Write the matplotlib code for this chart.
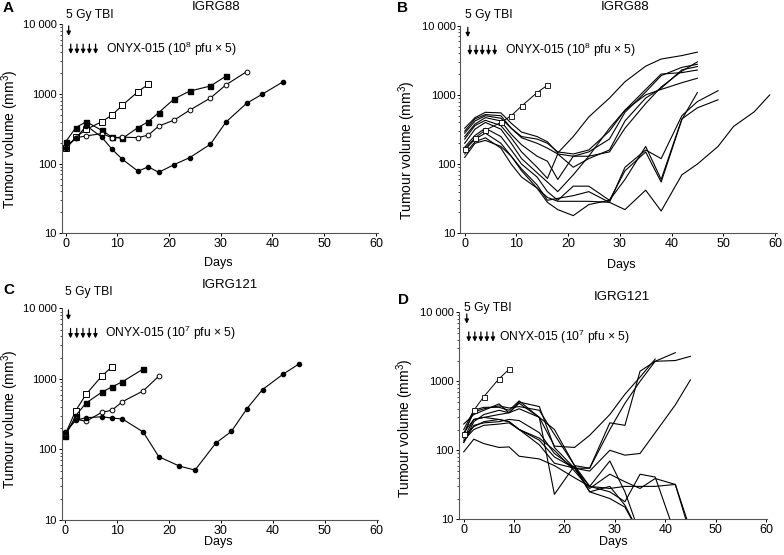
import numpy as np
import matplotlib
matplotlib.use("Agg")
import matplotlib.pyplot as plt
from matplotlib.ticker import FixedLocator, FixedFormatter, LogLocator, NullFormatter

plt.rcParams['font.family'] = ['Liberation Sans', 'DejaVu Sans']
plt.rcParams['mathtext.default'] = 'regular'

# ---- panel A (IGRG88, mean curves) ----
a_ctrl_days = [0, 2, 4, 7, 9, 11, 14, 16]
a_ctrl_vol = [165, 240, 310, 400, 500, 690, 1080, 1380]
a_fsq_days = [0, 2, 4, 7, 9, 11, 14, 16, 18, 21, 24, 28, 31]
a_fsq_vol = [205, 330, 400, 300, 240, 230, 330, 400, 540, 850, 1100, 1300, 1800]
a_ocirc_days = [0, 2, 4, 7, 9, 11, 14, 16, 18, 21, 24, 28, 31, 35]
a_ocirc_vol = [170, 235, 250, 270, 235, 240, 236, 257, 346, 422, 586, 874, 1350, 2090]
a_fcirc_days = [0, 2, 4, 7, 9, 11, 14, 16, 18, 21, 24, 28, 31, 35, 38, 42]
a_fcirc_vol = [170, 230, 350, 240, 160, 115, 78, 90, 75, 97, 122, 190, 395, 735, 990, 1490]

# ---- panel B (IGRG88, individual tumours) ----
b_days = [0, 2, 4, 7, 9, 11, 14, 16, 18, 21, 24, 28, 31, 35, 38, 42, 45]
b_days49 = b_days + [49]
b_days59 = b_days + [49, 52, 56, 59]
b1 = [330, 470, 560, 550, 390, 290, 250, 210, 145, 250, 480, 900, 1550, 2600, 3300, 3700, 4150]
b2 = [280, 420, 500, 460, 330, 240, 200, 170, 140, 130, 130, 150, 330, 750, 1300, 2200, 3000]
b3 = [250, 380, 470, 420, 270, 190, 130, 110, 60, 130, 150, 230, 560, 1100, 1900, 2500, 2770]
b4 = [230, 360, 430, 360, 240, 150, 90, 62, 140, 90, 120, 160, 420, 900, 1250, 2300, 2570]
b5 = [200, 320, 400, 320, 200, 120, 75, 55, 40, 70, 130, 330, 600, 1200, 2000, 2100, 2290]
b6 = [175, 260, 330, 250, 160, 100, 65, 40, 30, 48, 48, 30, 80, 150, 55, 440, 1080]
b7 = [160, 230, 280, 200, 130, 85, 50, 30, 32, 35, 40, 28, 90, 160, 120, 500, 800, 1150]
b8 = [140, 210, 240, 170, 100, 65, 45, 28, 22, 18, 26, 30, 60, 180, 60, 450, 650, 850]
b9 = [125, 200, 220, 180, 130, 80, 45, 33, 29, 29, 29, 28, 22, 42, 21, 70, 100, 180, 350, 570, 1000]
b10 = [300, 450, 520, 500, 330, 250, 230, 200, 150, 140, 160, 300, 600, 1000, 1200, 1500, 1740]

# ---- panel C (IGRG121, mean curves) ----
c_ctrl_days = [0, 2, 4, 7, 9]
c_ctrl_vol = [165, 355, 605, 1090, 1490]
c_fsq_days = [0, 2, 4, 7, 9, 11, 15]
c_fsq_vol = [155, 300, 455, 645, 770, 910, 1380]
c_ocirc_days = [0, 2, 4, 7, 9, 11, 15, 18]
c_ocirc_vol = [170, 270, 250, 335, 360, 475, 675, 1090]
c_fcirc_days = [0, 2, 4, 7, 9, 11, 15, 18, 22, 25, 29, 32, 35, 38, 42, 45]
c_fcirc_vol = [175, 258, 282, 290, 279, 270, 177, 79, 58, 51, 123, 180, 378, 705, 1170, 1620]

# ---- panel D (IGRG121, individual tumours) ----
d_days = [0, 2, 4, 7, 9, 11, 15, 18, 22, 25, 29, 32, 35, 38, 42, 45]
d1 = [170, 360, 400, 440, 410, 430, 380, 170, 60, 55, 200, 480, 1000, 1950, 2600]
d2 = [240, 330, 380, 470, 350, 500, 430, 110, 55, 55, 250, 230, 1400, 1950, 2000, 2300]
d3 = [150, 280, 300, 330, 350, 400, 300, 115, 110, 165, 330, 650, 1150, 2100]
d4 = [130, 230, 250, 260, 280, 270, 180, 90, 55, 50, 100, 85, 90, 180, 455, 1050]
d5 = [95, 145, 125, 110, 112, 82, 75, 60, 40, 30, 28, 30, 30, 30, 32, 7]
d6 = [140, 200, 230, 240, 250, 200, 120, 65, 55, 25, 30, 16, 6]
d7 = [160, 220, 260, 280, 260, 200, 140, 80, 55, 30, 25, 18, 45, 41, 6]
d8 = [180, 280, 300, 280, 260, 200, 150, 100, 50, 28, 45, 35, 28, 39, 32, 6]
d9 = [130, 260, 330, 380, 350, 480, 300, 23, 60, 30, 70, 25, 6]
d10 = [200, 380, 420, 420, 380, 520, 300, 200, 60, 25, 20, 15, 6]
d_ctrl_days = [0, 2, 4, 7, 9]
d_ctrl_vol = [170, 380, 600, 1090, 1490]

W, H = 784, 555
fig = plt.figure(figsize=(W / 100, H / 100), dpi=100)


def px_axes(x0, x1, y0, y1):
    # pixel box (left, right, top, bottom) -> figure axes
    return fig.add_axes([x0 / W, 1 - y1 / H, (x1 - x0) / W, (y1 - y0) / H])


def style(ax, xlim, ylab_xy, xlab_xy):
    ax.set_yscale('log')
    ax.set_xlim(*xlim)
    ax.set_ylim(10, 10000)
    for s in ['top', 'right']:
        ax.spines[s].set_visible(False)
    for s in ['left', 'bottom']:
        ax.spines[s].set_linewidth(0.8)
        ax.spines[s].set_color('#555555')
    ax.set_xticks(np.arange(0, 61, 10))
    ax.yaxis.set_major_locator(FixedLocator([10, 100, 1000, 10000]))
    ax.yaxis.set_major_formatter(FixedFormatter(['10', '100', '1000', '10 000']))
    ax.yaxis.set_minor_locator(LogLocator(base=10, subs=np.arange(2, 10)))
    ax.yaxis.set_minor_formatter(NullFormatter())
    ax.tick_params(axis='both', which='major', length=2.5, width=0.7, pad=1, direction='out')
    ax.tick_params(axis='x', which='major', labelsize=9)
    ax.tick_params(axis='y', which='major', labelsize=8)
    ax.tick_params(axis='y', which='minor', length=1.5, width=0.5)
    ax.set_ylabel('Tumour volume (mm$^3$)', fontsize=10, va='center')
    ax.yaxis.set_label_coords(*ylab_xy)
    ax.set_xlabel('Days', fontsize=9, va='center')
    ax.xaxis.set_label_coords(*xlab_xy)


def annotate(ax, title, title_xy, tbi_y, dose, onyx_day):
    ax.text(title_xy[0], title_xy[1], title, transform=ax.transAxes, ha='center', va='center', fontsize=9.5)
    ax.text(0.0, tbi_y, '5 Gy TBI', transform=ax.get_xaxis_transform(), ha='left', va='center',
            fontsize=8.7, clip_on=False)
    arr = dict(arrowstyle='-|>', color='black', lw=0.9, mutation_scale=6, shrinkA=0, shrinkB=0)
    ax.annotate('', xy=(0.6, 0.945), xytext=(0.6, 0.992),
                xycoords=('data', 'axes fraction'), textcoords=('data', 'axes fraction'),
                arrowprops=arr)
    for dd in [1.0, 2.2, 3.4, 4.6, 5.8]:
        ax.annotate('', xy=(dd, 0.858), xytext=(dd, 0.905),
                    xycoords=('data', 'axes fraction'), textcoords=('data', 'axes fraction'),
                    arrowprops=arr)
    ax.text(onyx_day, 0.882, 'ONYX-015 (10$^{%d}$ pfu $\\times$ 5)' % dose,
            transform=ax.get_xaxis_transform(), ha='left', va='center', fontsize=8.7)


def mean_series(ax, dsets):
    kw = dict(color='black', lw=0.8)
    ax.plot(dsets[0][0], dsets[0][1], marker='s', ms=4.2, mfc='white', mec='black', mew=0.7, **kw)
    ax.plot(dsets[1][0], dsets[1][1], marker='s', ms=3.6, mfc='black', mec='black', **kw)
    ax.plot(dsets[2][0], dsets[2][1], marker='o', ms=3.4, mfc='white', mec='black', mew=0.7, **kw)
    ax.plot(dsets[3][0], dsets[3][1], marker='o', ms=3.0, mfc='black', mec='black', **kw)


# Panel A
axA = px_axes(61.7, 377.5, 24.3, 233.3)
mean_series(axA, [(a_ctrl_days, a_ctrl_vol), (a_fsq_days, a_fsq_vol),
                  (a_ocirc_days, a_ocirc_vol), (a_fcirc_days, a_fcirc_vol)])
style(axA, (-0.75, 60.3), (-0.164, 0.45), (0.495, -0.142))
annotate(axA, 'IGRG88', (0.49, 1.084), 1.045, 8, 7.9)

# Panel B
axB = px_axes(460.3, 777.5, 25.7, 233.3)
for yy in [b1, b2, b3, b4, b5, b6, b10]:
    axB.plot(b_days, yy, color='black', lw=0.8)
for yy in [b7, b8]:
    axB.plot(b_days49, yy, color='black', lw=0.8)
axB.plot(b_days59, b9, color='black', lw=0.8)
axB.plot(a_ctrl_days, a_ctrl_vol, color='black', lw=0.7, marker='s', ms=3.6, mfc='white', mec='black', mew=0.6)
style(axB, (-0.85, 60.5), (-0.168, 0.40), (0.508, -0.153))
annotate(axB, 'IGRG88', (0.52, 1.092), 1.05, 8, 7.8)

# Panel C
axC = px_axes(61.7, 377.7, 308.3, 520.0)
mean_series(axC, [(c_ctrl_days, c_ctrl_vol), (c_fsq_days, c_fsq_vol),
                  (c_ocirc_days, c_ocirc_vol), (c_fcirc_days, c_fcirc_vol)])
style(axC, (-0.7, 60.2), (-0.164, 0.477), (0.495, -0.106))
annotate(axC, 'IGRG121', (0.533, 1.11), 1.078, 7, 7.6)

# Panel D
axD = px_axes(458.7, 767.0, 312.3, 519.3)
for yy in [d1, d2, d3, d4, d5, d6, d7, d8, d9, d10]:
    axD.plot(d_days[:len(yy)], yy, color='black', lw=0.8)
axD.plot(d_ctrl_days, d_ctrl_vol, color='black', lw=0.7, marker='s', ms=3.6, mfc='white', mec='black', mew=0.6)
style(axD, (-1.0, 60.2), (-0.173, 0.44), (0.503, -0.112))
annotate(axD, 'IGRG121', (0.53, 1.075), 1.02, 7, 7.0)

# panel letters
for lab, (px, py) in {'A': (3, 8), 'B': (397, 8), 'C': (3, 290), 'D': (398, 300)}.items():
    fig.text(px / W, 1 - py / H, lab, fontsize=11, fontweight='bold', ha='left', va='center')

fig.savefig('out.png', dpi=100)
